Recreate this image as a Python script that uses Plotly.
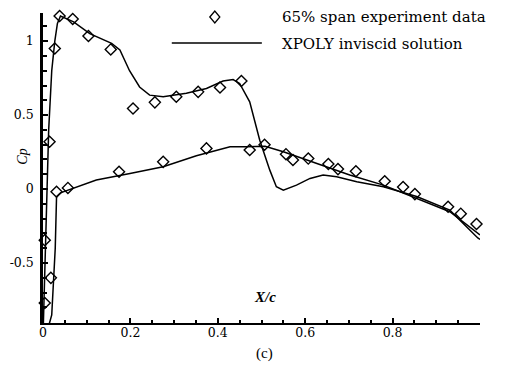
import plotly.graph_objects as go

# ---------------- data ----------------
exp_x = [0.004, 0.018, 0.004, 0.015, 0.027, 0.038, 0.068, 0.104, 0.155,
         0.206, 0.256, 0.305, 0.355, 0.405, 0.454,
         0.031, 0.057, 0.174, 0.275, 0.374, 0.473,
         0.507, 0.556, 0.572, 0.607, 0.653, 0.675, 0.716, 0.782, 0.824,
         0.851, 0.927, 0.956, 0.992]
exp_cp = [-0.77, -0.60, -0.345, 0.32, 0.95, 1.17, 1.15, 1.035, 0.944,
          0.545, 0.586, 0.624, 0.657, 0.687, 0.730,
          -0.018, 0.008, 0.117, 0.184, 0.275, 0.264,
          0.30, 0.236, 0.196, 0.206, 0.169, 0.135, 0.12, 0.053, 0.014,
          -0.034, -0.12, -0.166, -0.236]

upper_x = [0.0, 0.005, 0.01, 0.013, 0.02, 0.027, 0.033, 0.04, 0.07, 0.107,
           0.157, 0.176, 0.198, 0.221, 0.244, 0.275, 0.328, 0.374, 0.412,
           0.435, 0.45, 0.473, 0.496, 0.519, 0.534, 0.55, 0.58, 0.611,
           0.641, 0.672, 0.718, 0.779, 0.855, 0.931, 0.995, 1.0]
upper_cp = [-1.0, -0.5, 0.0, 0.4, 0.8, 1.0, 1.12, 1.17, 1.13, 1.05,
            0.985, 0.94, 0.80, 0.69, 0.635, 0.624, 0.647, 0.68, 0.73,
            0.74, 0.714, 0.59, 0.33, 0.128, 0.016, -0.007, 0.027, 0.072,
            0.095, 0.083, 0.049, 0.016, -0.05, -0.142, -0.33, -0.34]

lower_x = [0.006, 0.02, 0.028, 0.031, 0.04, 0.061, 0.122, 0.199, 0.275,
           0.351, 0.397, 0.428, 0.466, 0.508, 0.55, 0.626, 0.702, 0.779,
           0.855, 0.931, 1.0]
lower_cp = [-1.0, -0.85, -0.4, -0.05, -0.025, -0.002, 0.061, 0.106, 0.151,
            0.225, 0.264, 0.286, 0.286, 0.29, 0.252, 0.174, 0.095, 0.027,
            -0.063, -0.153, -0.31]

x_tickvals = [0, 0.2, 0.4, 0.6, 0.8, 1.0]
x_ticktext = ["0", "0.2", "0.4", "0.6", "0.8", ""]
y_tickvals = [-0.5, 0, 0.5, 1]
y_ticktext = ["-0.5", "0", "0.5", "1"]

legend_names = ["65% span experiment data", "XPOLY inviscid solution"]

# ---------------- layout geometry ----------------
W, H = 510, 378
L, R, T, B = 43.3, 30, 13, 55
PW, PH = W - L - R, H - T - B
FONT = "Liberation Serif"
LFONT = "DejaVu Serif"


def px(x):
    return (x - L) / PW


def py(y):
    return (H - B - y) / PH


fig = go.Figure()

fig.add_trace(go.Scatter(x=upper_x, y=upper_cp, mode="lines",
                         line=dict(color="black", width=1.5),
                         name=legend_names[1], showlegend=False))
fig.add_trace(go.Scatter(x=lower_x, y=lower_cp, mode="lines",
                         line=dict(color="black", width=1.5),
                         name=legend_names[1], showlegend=False))
fig.add_trace(go.Scatter(x=exp_x, y=exp_cp, mode="markers",
                         marker=dict(symbol="diamond-open", size=8.5,
                                     color="black", line=dict(width=1.4, color="black")),
                         name=legend_names[0], showlegend=False, cliponaxis=False))

# legend (drawn manually)
dx, dy = 215, 17
fig.add_shape(type="path", xref="paper", yref="paper",
              path=f"M{px(dx-5)},{py(dy)} L{px(dx)},{py(dy-6)} L{px(dx+5)},{py(dy)} L{px(dx)},{py(dy+6)} Z",
              line=dict(color="black", width=1.3), fillcolor="white")
fig.add_shape(type="line", xref="paper", yref="paper",
              x0=px(172), x1=px(262), y0=py(43), y1=py(43),
              line=dict(color="black", width=1.5))
fig.add_annotation(x=px(280), y=py(17), xref="paper", yref="paper",
                   text=legend_names[0], showarrow=False, xanchor="left",
                   yanchor="middle", font=dict(family=LFONT, size=15, color="black"))
fig.add_annotation(x=px(280), y=py(44), xref="paper", yref="paper",
                   text=legend_names[1], showarrow=False, xanchor="left",
                   yanchor="middle", font=dict(family=LFONT, size=15, color="black"))

# axis titles and caption
fig.add_annotation(x=px(22), y=py(157), xref="paper", yref="paper",
                   text="<i>Cp</i>", showarrow=False, textangle=-90,
                   xanchor="center", yanchor="middle",
                   font=dict(family=FONT, size=14, color="black"))
fig.add_annotation(x=px(265), y=py(297), xref="paper", yref="paper",
                   text="<b><i>X/c</i></b>", showarrow=False,
                   xanchor="center", yanchor="middle",
                   font=dict(family=FONT, size=15, color="black"))
fig.add_annotation(x=px(265), y=py(353), xref="paper", yref="paper",
                   text="(c)", showarrow=False,
                   xanchor="center", yanchor="middle",
                   font=dict(family=FONT, size=15, color="black"))

fig.update_layout(
    width=W, height=H,
    margin=dict(l=L, r=R, t=T, b=B, pad=0, autoexpand=False),
    paper_bgcolor="white", plot_bgcolor="white",
    font=dict(family=FONT, size=12, color="black"),
    showlegend=False,
    xaxis=dict(range=[0, 1], tickvals=x_tickvals, ticktext=x_ticktext,
               showgrid=False, zeroline=False, showline=True, automargin=False,
               linecolor="black", linewidth=2, ticks="inside", ticklen=5,
               tickwidth=1.5, tickcolor="black",
               minor=dict(dtick=0.05, ticks="inside", ticklen=3, tickwidth=1.5,
                          tickcolor="black", showgrid=False),
               tickfont=dict(family=LFONT, size=12.5), mirror=False,
               ticklabelstandoff=-3),
    yaxis=dict(range=[-0.905, 1.19], tickvals=y_tickvals, ticktext=y_ticktext,
               showgrid=False, zeroline=False, showline=True, automargin=False,
               linecolor="black", linewidth=2.5, ticks="inside", ticklen=5,
               tickwidth=1.5, tickcolor="black", tickangle=0,
               minor=dict(dtick=0.1, ticks="inside", ticklen=4, tickwidth=1.5,
                          tickcolor="black", showgrid=False),
               tickfont=dict(family=LFONT, size=12.5), ticklabelstandoff=4),
)

fig.write_html("out.html", config={"displayModeBar": False},
               post_script="document.body.style.margin='0';document.body.style.padding='0';")
